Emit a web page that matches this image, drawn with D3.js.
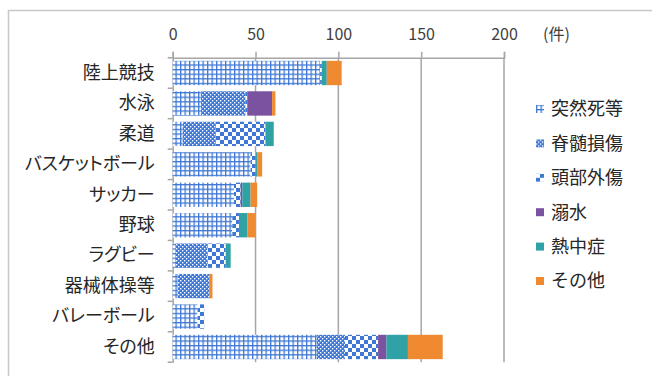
<!DOCTYPE html>
<html>
<head>
<meta charset="utf-8">
<script src="https://cdn.jsdelivr.net/npm/d3@7"></script>
<style>
  html, body { margin: 0; padding: 0; background: #fff; }
  svg { display: block; font-family: "Noto Sans CJK JP", "Noto Sans", sans-serif; }
</style>
</head>
<body>
<svg id="chart" width="652" height="376"></svg>
<script>
// 競技別の事故件数（件）
const categories = ["陸上競技", "水泳", "柔道", "バスケットボール", "サッカー", "野球", "ラグビー", "器械体操等", "バレーボール", "その他"];
const seriesNames = ["突然死等", "脊髄損傷", "頭部外傷", "溺水", "熱中症", "その他"];
const suddenDeath = [89, 17, 6, 47, 37, 36, 2, 3, 15, 87];
const spinalInjury = [0, 27, 20, 0, 0, 0, 19, 19, 0, 17];
const headInjury = [1, 1, 30, 3, 4, 4, 11, 0, 4, 20];
const drowning = [0, 15, 0, 0, 1, 0, 0, 0, 0, 5];
const heatStroke = [3, 0, 5, 1, 5, 5, 3, 0, 0, 13];
const otherCause = [9, 2, 0, 3, 4, 5, 0, 2, 0, 21];
const xTicks = [0, 50, 100, 150, 200];
const unitLabel = "(件)";

const seriesValues = [suddenDeath, spinalInjury, headInjury, drowning, heatStroke, otherCause];
const rows = categories.map((c, i) => {
  const r = { category: c };
  seriesNames.forEach((s, j) => { r[s] = seriesValues[j][i]; });
  return r;
});

const svg = d3.select("#chart");
const blue = "#3f78d4";
const defs = svg.append("defs");

// 突然死等: fine grid
const pGrid = defs.append("pattern").attr("id", "pGrid").attr("patternUnits", "userSpaceOnUse")
  .attr("width", 4.5).attr("height", 4.6);
pGrid.append("rect").attr("width", 4.5).attr("height", 4.6).attr("fill", blue);
pGrid.append("rect").attr("x", 1.3).attr("y", 1.3).attr("width", 3.2).attr("height", 3.3).attr("fill", "#fff");

// 脊髄損傷: dense dotted
const pDots = defs.append("pattern").attr("id", "pDots").attr("patternUnits", "userSpaceOnUse")
  .attr("width", 4).attr("height", 4);
pDots.append("rect").attr("width", 4).attr("height", 4).attr("fill", blue);
pDots.append("rect").attr("x", 0).attr("y", 0).attr("width", 1.4).attr("height", 1.4).attr("fill", "#fff");
pDots.append("rect").attr("x", 2).attr("y", 2).attr("width", 1.4).attr("height", 1.4).attr("fill", "#fff");

// 頭部外傷: large checker
const pCheck = defs.append("pattern").attr("id", "pCheck").attr("patternUnits", "userSpaceOnUse")
  .attr("width", 8).attr("height", 8);
pCheck.append("rect").attr("width", 8).attr("height", 8).attr("fill", "#fff");
pCheck.append("rect").attr("x", 0).attr("y", 0).attr("width", 4).attr("height", 4).attr("fill", blue);
pCheck.append("rect").attr("x", 4).attr("y", 4).attr("width", 4).attr("height", 4).attr("fill", blue);

const fills = ["url(#pGrid)", "url(#pDots)", "url(#pCheck)", "#7a529f", "#30a2a6", "#ef8a30"];
const color = d3.scaleOrdinal().domain(seriesNames).range(fills);

// outer frame
svg.append("rect").attr("x", 8.5).attr("y", 10.5).attr("width", 700).attr("height", 400)
  .attr("fill", "none").attr("stroke", "#c8c8c8").attr("stroke-width", 1.5);

const plot = { left: 172.7, right: 504, top: 57.8, bottom: 362.2 };
const x = d3.scaleLinear().domain([0, 200]).range([plot.left, plot.right]);
const y = d3.scaleBand().domain(categories).range([plot.top, plot.bottom]).paddingInner(0.2).paddingOuter(0.1);

// gridlines
svg.append("g").selectAll("line").data(xTicks.slice(1)).join("line")
  .attr("x1", d => x(d)).attr("x2", d => x(d))
  .attr("y1", plot.top).attr("y2", plot.bottom)
  .attr("stroke", "#a6a6a6").attr("stroke-width", 1.5);

// top axis
const xAxis = svg.append("g").attr("transform", `translate(0,${plot.top})`)
  .call(d3.axisTop(x).tickValues(xTicks).tickSize(6).tickPadding(12).tickFormat(d3.format("d")));
xAxis.select(".domain").attr("stroke", "#a6a6a6").attr("stroke-width", 1.5);
xAxis.selectAll(".tick line").attr("stroke", "#a6a6a6").attr("stroke-width", 1.5);
xAxis.selectAll(".tick text").attr("fill", "#404040").attr("font-size", 16)
  .attr("font-family", "'Noto Sans CJK JP', sans-serif");

svg.append("text").attr("x", 543).attr("y", 40).attr("fill", "#404040")
  .attr("font-size", 16).text(unitLabel);

// left axis
const yAxis = svg.append("g").attr("transform", `translate(${plot.left},0)`)
  .call(d3.axisLeft(y).tickSize(0).tickPadding(18));
yAxis.select(".domain").attr("stroke", "#a6a6a6").attr("stroke-width", 1.5);
yAxis.selectAll(".tick text").attr("fill", "#262626").attr("font-size", 18)
  .attr("font-family", "'Noto Sans CJK JP', sans-serif")
  .style("font-feature-settings", "'palt'");
// band-boundary tick marks
const step = y.step();
const bounds = d3.range(categories.length + 1).map(i => plot.top + i * step);
svg.append("g").selectAll("line").data(bounds).join("line")
  .attr("x1", plot.left - 5).attr("x2", plot.left)
  .attr("y1", d => d).attr("y2", d => d)
  .attr("stroke", "#a6a6a6").attr("stroke-width", 1.5);

// stacked bars
const stacked = d3.stack().keys(seriesNames)(rows);
svg.append("g").selectAll("g").data(stacked).join("g")
  .attr("fill", d => color(d.key))
  .selectAll("rect").data(d => d).join("rect")
  .attr("x", d => x(d[0]))
  .attr("y", d => y(d.data.category))
  .attr("width", d => Math.max(0, x(d[1]) - x(d[0])))
  .attr("height", y.bandwidth());

// legend
const legend = svg.append("g");
const ly = d3.scaleLinear().domain([0, seriesNames.length - 1]).range([109, 281]);
seriesNames.forEach((s, i) => {
  const g = legend.append("g").attr("transform", `translate(536,${ly(i)})`);
  g.append("rect").attr("x", 0).attr("y", -4).attr("width", 8).attr("height", 8).attr("fill", color(s));
  g.append("text").attr("x", 15).attr("y", 0).attr("dy", "0.35em")
    .attr("fill", "#262626").attr("font-size", 18).text(s);
});
</script>
</body>
</html>
